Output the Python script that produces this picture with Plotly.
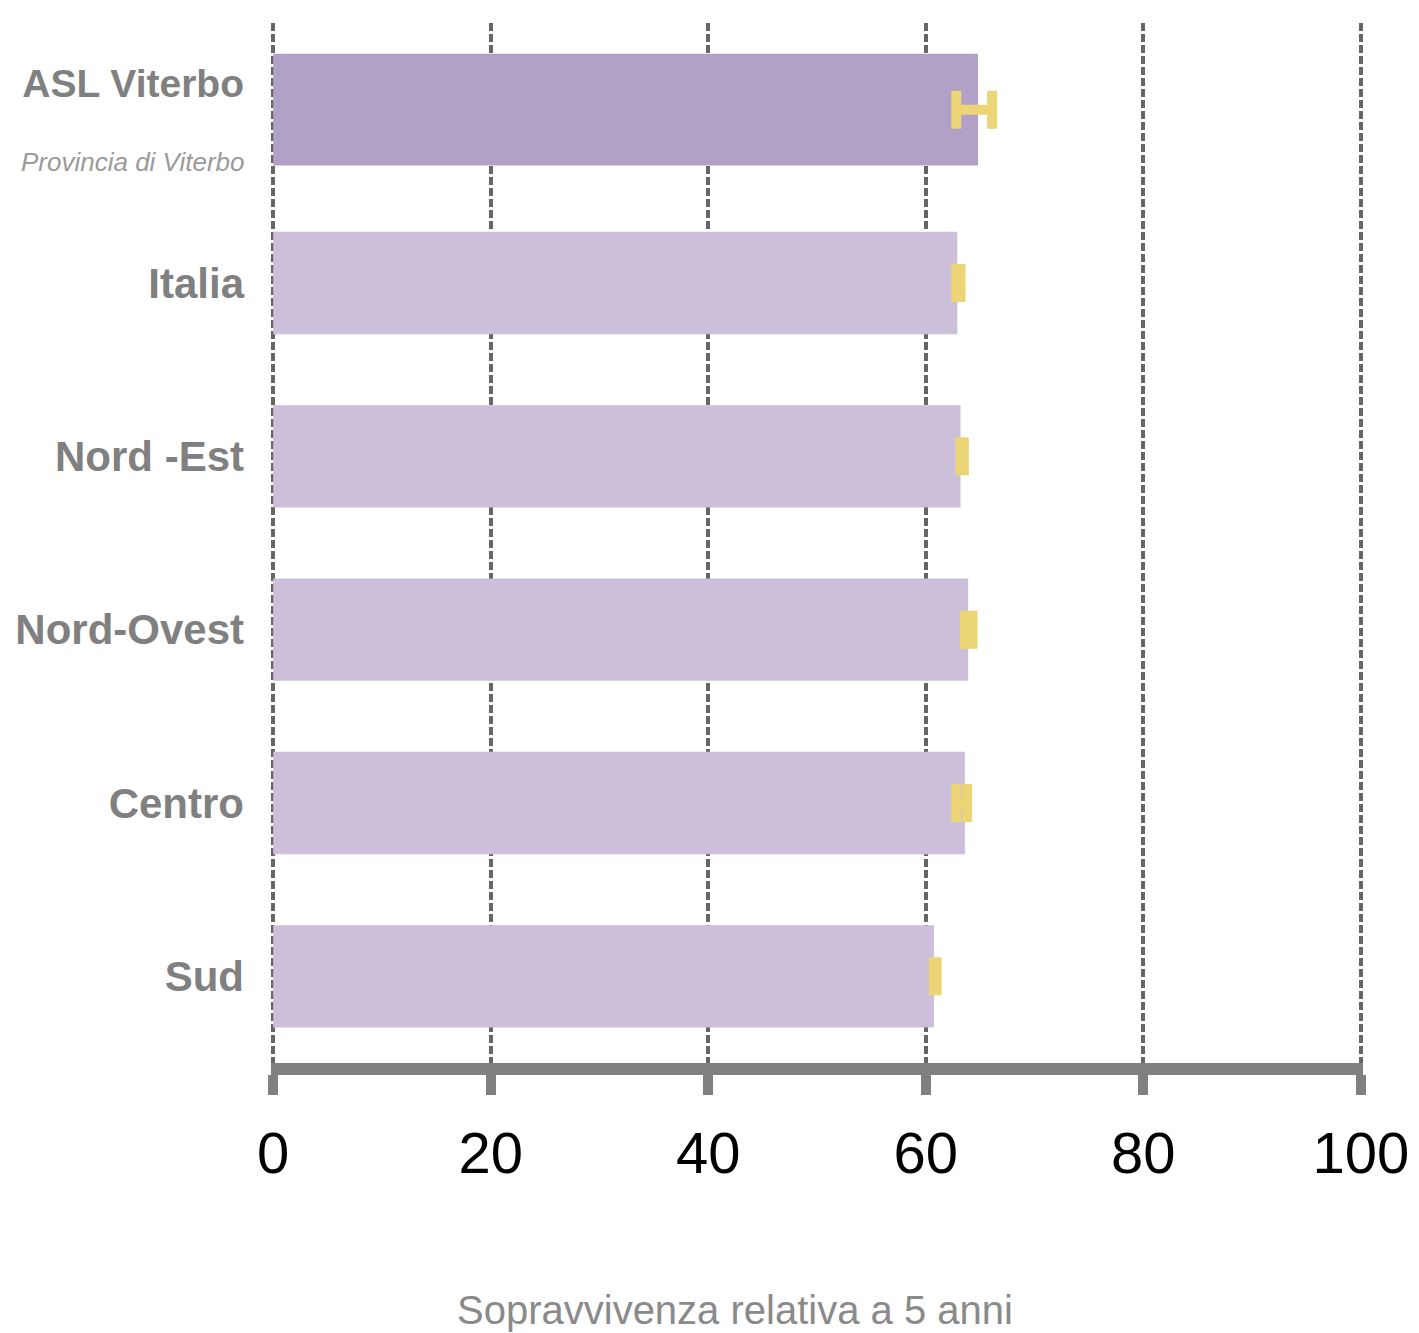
import plotly.graph_objects as go

categories = ["ASL Viterbo", "Italia", "Nord -Est", "Nord-Ovest", "Centro", "Sud"]
tick_labels = [
    "<span style='font-size:39px'><b>ASL Viterbo</b></span><br>&nbsp;",
    "<b>Italia</b>", "<b>Nord -Est</b>", "<b>Nord-Ovest</b>", "<b>Centro</b>", "<b>Sud</b>",
]
sub_label = "Provincia di Viterbo"
values = [64.8, 62.9, 63.2, 63.9, 63.6, 60.75]
ci_low = [62.8, 62.8, 63.2, 63.6, 62.8, 60.75]
ci_high = [66.1, 63.2, 63.5, 64.3, 63.8, 61.0]
x_ticks = [0, 20, 40, 60, 80, 100]
x_title = "Sopravvivenza relativa a 5 anni"

bar_colors = ["#B2A1C7"] + ["#CCBFDA"] * 5
bar_widths = [0.645] + [0.59] * 5

FONT = "Liberation Sans Narrow, Liberation Sans, Arial, sans-serif"

fig = go.Figure(go.Bar(
    y=categories, x=values, orientation="h",
    marker=dict(color=bar_colors, line=dict(width=0)),
    width=bar_widths,
    error_x=dict(type="data", symmetric=False,
                 array=[h - v for h, v in zip(ci_high, values)],
                 arrayminus=[v - l for v, l in zip(values, ci_low)],
                 color="#EBD574", thickness=10, width=19),
))

fig.update_layout(
    width=1411, height=1325,
    margin=dict(l=263, r=56, t=15, b=270),
    plot_bgcolor="white", paper_bgcolor="white",
    showlegend=False,
    font=dict(family=FONT),
    xaxis=dict(range=[-0.2, 100.2], tickvals=x_ticks, ticktext=[str(t) for t in x_ticks],
               automargin=False,
               showgrid=True, gridcolor="#666666", gridwidth=4, griddash="8px,3px",
               zeroline=False, showline=True, linecolor="#808080", linewidth=12,
               ticks="outside", ticklen=20, tickwidth=10, tickcolor="#808080",
               tickfont=dict(size=58, color="black", family=FONT),
               ticklabelstandoff=8),
    yaxis=dict(categoryorder="array", categoryarray=categories, autorange="reversed",
               automargin=False,
               tickvals=categories, ticktext=tick_labels,
               showgrid=False, zeroline=False, showline=False, ticks="",
               tickfont=dict(size=42, color="#808080", family=FONT),
               ticklabelstandoff=26),
    annotations=[
        dict(text=x_title, xref="paper", yref="paper",
             x=0.4246, y=-0.2374, showarrow=False, xanchor="center", yanchor="middle",
             font=dict(size=40, color="#8a8a8a", family=FONT)),
        dict(text="<i>" + sub_label + "</i>", xref="paper", yref="y",
             x=0, y=categories[0], xanchor="right", yanchor="middle",
             xshift=-24, yshift=-52, showarrow=False,
             font=dict(size=26, color="#9a9a9a", family=FONT)),
    ],
)

fig.write_html("out.html")
